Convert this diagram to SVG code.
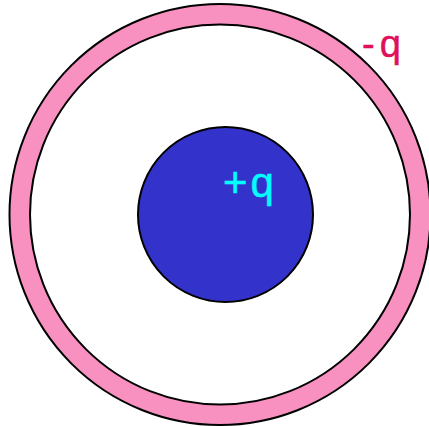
<svg xmlns="http://www.w3.org/2000/svg" width="429" height="427" viewBox="0 0 429 427">
<style>
.edge{fill:none;stroke:#000;stroke-width:2}
.lbl{font-family:"Liberation Sans",Arial,sans-serif;stroke-width:0.5}
</style>
<rect width="429" height="427" fill="#fff"/>
<g id="shell">
<circle cx="220" cy="214.5" r="200" fill="none" stroke="#F890C0" stroke-width="20"/>
<circle class="edge" cx="220" cy="214.5" r="210.5"/>
<circle class="edge" cx="220" cy="214.5" r="190"/>
<text class="lbl" x="362" y="57" font-size="38" fill="#E0105A" stroke="#E0105A">-<tspan dx="5">q</tspan></text>
</g>
<g id="core">
<circle cx="225.5" cy="214.5" r="87.5" fill="#3333CC" stroke="#000" stroke-width="2"/>
<text class="lbl" x="223" y="197" font-size="42" fill="#00FFFF" stroke="#00FFFF" letter-spacing="3">+q</text>
</g>
</svg>
